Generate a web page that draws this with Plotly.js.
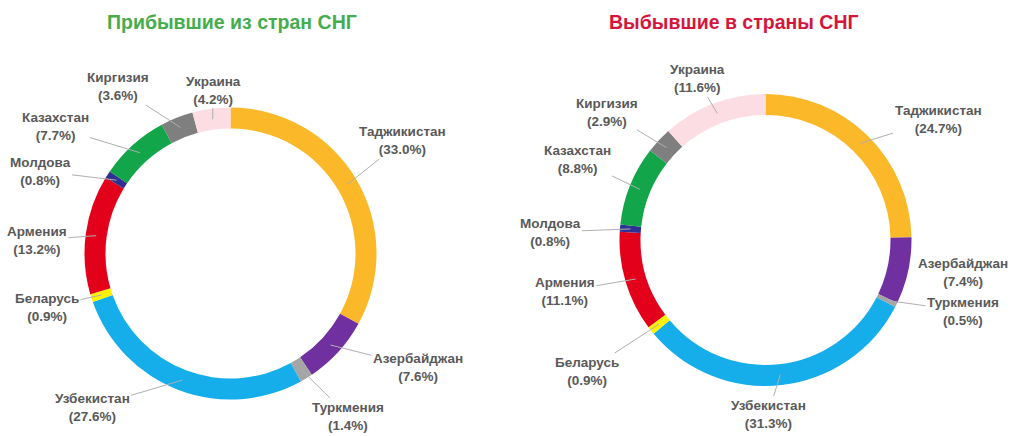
<!DOCTYPE html>
<html>
<head>
<meta charset="utf-8">
<script src="https://cdn.plot.ly/plotly-3.0.1.min.js"></script>
<style>html,body{margin:0;padding:0;background:#fff;}#chart{width:1015px;height:436px;}</style>
</head>
<body>
<div id="chart"></div>
<script>
// ---- data ----
var countries = ["Таджикистан","Азербайджан","Туркмения","Узбекистан","Беларусь","Армения","Молдова","Казахстан","Киргизия","Украина"];
var arrivedShares = [33.0, 7.6, 1.4, 27.6, 0.9, 13.2, 0.8, 7.7, 3.6, 4.2];
var departedShares = [24.7, 7.4, 0.5, 31.3, 0.9, 11.1, 0.8, 8.8, 2.9, 11.6];
var titleArrived = "Прибывшие из стран СНГ";
var titleDeparted = "Выбывшие в страны СНГ";

// ---- style / layout ----
var colors = ["#FBB829","#7030A0","#A5A5A5","#15AEEA","#FFF200","#E2001A","#2E3192","#12A54A","#7F7F7F","#FCDDE3"];
var W = 1015, H = 436, R = 146, RING = 21;
var charts = [
  {cx: 230.5, cy: 253.5, values: arrivedShares, title: titleArrived, tcolor: "#45AD4E", tx: 232,
   labels: [[402,141],[418,367],[348,416],[92,407],[47,307],[37,240],[40,171],[55,127],[118,87],[213,90]],
   arrows: [1,1,1,1,1,1,1,1,1,1]},
  {cx: 765.5, cy: 240, values: departedShares, title: titleDeparted, tcolor: "#D4163C", tx: 734,
   labels: [[938,119],[963,272],[963,311],[768,414],[587,371],[565,291],[550,232],[577,159],[607,112],[697,79]],
   arrows: [1,0,1,1,1,1,1,1,1,1]}
];

var data = [], annotations = [];
charts.forEach(function(c){
  data.push({
    type: "pie", values: c.values, labels: countries, sort: false, direction: "clockwise", rotation: 0,
    hole: (R - RING) / R, textinfo: "none", hoverinfo: "label+percent",
    marker: {colors: colors, line: {width: 0}},
    domain: {x: [(c.cx - R) / W, (c.cx + R) / W], y: [1 - (c.cy + R) / H, 1 - (c.cy - R) / H]},
    showlegend: false
  });
  annotations.push({text: "<b>" + c.title + "</b>", x: c.tx / W, y: 1 - 22 / H, xref: "paper", yref: "paper",
    xanchor: "center", yanchor: "middle",
    showarrow: false, font: {family: "Liberation Sans, Arial, sans-serif", size: 19.5, color: c.tcolor}});
  var total = c.values.reduce(function(a,b){return a+b;}, 0);
  var cum = 0;
  c.values.forEach(function(v, i){
    var mid = (cum + v / 2) / total * 2 * Math.PI;
    cum += v;
    var rm = R - RING / 2;
    var px = c.cx + rm * Math.sin(mid), py = c.cy - rm * Math.cos(mid);
    var lx = c.labels[i][0], ly = c.labels[i][1];
    annotations.push({
      text: "<b>" + countries[i] + "<br>(" + v.toFixed(1) + "%)</b>",
      x: px / W, y: 1 - py / H, xref: "paper", yref: "paper",
      ax: lx - px, ay: ly - py, axref: "pixel", ayref: "pixel",
      showarrow: true, arrowhead: 0, arrowwidth: 1, standoff: 0,
      arrowcolor: c.arrows[i] ? "#AFAFAF" : "rgba(0,0,0,0)",
      align: "center",
      font: {family: "Liberation Sans, Arial, sans-serif", size: 13.5, color: "#595959"}
    });
  });
});

var layout = {
  width: W, height: H, margin: {l: 0, r: 0, t: 0, b: 0},
  paper_bgcolor: "#ffffff", plot_bgcolor: "#ffffff",
  annotations: annotations, showlegend: false
};
Plotly.newPlot("chart", data, layout, {displayModeBar: false, staticPlot: true});
</script>
</body>
</html>
